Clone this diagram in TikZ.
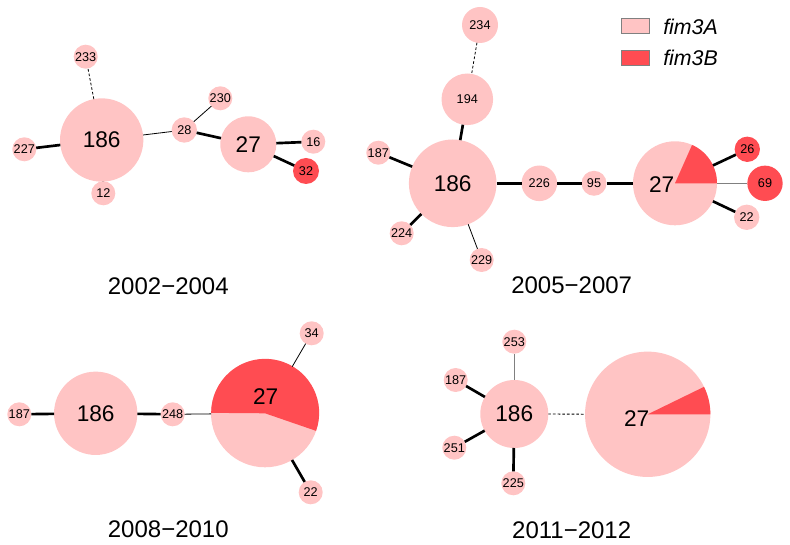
\documentclass[tikz,border=0pt]{standalone}
\usepackage{fontspec}
\setmainfont{Liberation Sans}
\definecolor{fimA}{RGB}{255,196,196}
\definecolor{fimB}{RGB}{255,76,82}

\begin{document}
\begin{tikzpicture}[
        x=0.75pt, y=-0.75pt,
        st/.style={circle, fill=fimA, inner sep=0pt, outer sep=0pt, minimum size=#1, font=\fontsize{9.5}{11}\selectfont},
        st/.default=18pt,
        stB/.style={st=#1, fill=fimB},
        stB/.default=18pt,
        big/.style={font=\fontsize{17}{20}\selectfont},
        year/.style={font=\fontsize{18}{22}\selectfont},
        key/.style={draw=gray, minimum width=20.7pt, minimum height=11.25pt, inner sep=0pt},
        keytext/.style={anchor=west, inner sep=0pt, font=\fontsize{16}{19}\selectfont\itshape},
        strong/.style={line width=2pt},
        weak/.style={line width=0.6pt},
        far/.style={line width=0.6pt, dash pattern=on 2pt off 1.5pt},
        faint/.style={line width=1pt, gray}
    ]
        \useasboundingbox (0,0) rectangle (790,545);

        % 2002-2004
        \node[st=62.5pt, big] (a186) at (101.7,140) {186};
        \node[st] (a233) at (85.7,56.7) {233};
        \node[st] (a227) at (24.3,149.3) {227};
        \node[st] (a12) at (103.3,193.3) {12};
        \node[st=19pt] (a28) at (184.3,130) {28};
        \node[st] (a230) at (220.3,98.3) {230};
        \node[st=42pt, big] (a27) at (248.3,144.3) {27};
        \node[st] (a16) at (313.3,141.7) {16};
        \node[stB=19.5pt] (a32) at (306,171) {32};

        \draw[far] (a186) -- (a233);
        \draw[strong] (a186) -- (a227);
        \draw[weak] (a186) -- (a12);
        \draw[weak] (a186) -- (a28);
        \draw[weak] (a28) -- (a230);
        \draw[strong] (a28) -- (a27);
        \draw[strong] (a27) -- (a16);
        \draw[strong] (a27) -- (a32);
        \node[year] (ya) at (168.3,286) {2002−2004};

        % 2005-2007
        \node[st=27pt] (b234) at (480,25) {234};
        \node[st=38.7pt] (b194) at (467.3,99.3) {194};
        \node[st=65.7pt, big] (b186) at (452.7,183.3) {186};
        \node[st] (b187) at (378.3,152.7) {187};
        \node[st] (b224) at (401.7,233.3) {224};
        \node[st] (b229) at (481.7,260) {229};
        \node[st=26.7pt] (b226) at (539.3,183.3) {226};
        \node[st=18.75pt] (b95) at (594,183.3) {95};
        \node[st=63pt] (b27) at (675,183.3) {};
        \fill[fimB] (b27.center) -- (b27.0) arc[start angle=0, end angle=66, radius=31.5pt] -- cycle;
        \node[big] (b27t) at (661.7,185) {27};
        \node[stB=19pt] (b26) at (747.3,149.3) {26};
        \node[stB=26.5pt] (b69) at (765,183.3) {69};
        \node[st=19pt] (b22) at (746.7,217.3) {22};

        \draw[far] (b234) -- (b194);
        \draw[strong] (b194) -- (b186);
        \draw[strong] (b186) -- (b187);
        \draw[strong] (b186) -- (b224);
        \draw[weak] (b186) -- (b229);
        \draw[strong] (b186) -- (b226);
        \draw[strong] (b226) -- (b95);
        \draw[strong] (b95) -- (b27);
        \draw[strong] (b27) -- (b26);
        \draw[faint] (b27) -- (b69);
        \draw[strong] (b27) -- (b22);
        \node[year] (yb) at (571.7,285.7) {2005−2007};

        % Legend
        \node[key, fill=fimA] (keyA) at (635.5,25.8) {};
        \node[keytext] (keyAt) at (663,26.7) {fim3A};
        \node[key, fill=fimB] (keyB) at (635.5,57.5) {};
        \node[keytext] (keyBt) at (663,58.3) {fim3B};

        % 2008-2010
        \node[st] (c187) at (19.3,414.3) {187};
        \node[st=62.5pt, big] (c186) at (95.7,413.3) {186};
        \node[st] (c248) at (172.7,414.3) {248};
        \node[st=81pt] (c27) at (265,413.3) {};
        \fill[fimB] (c27.center) -- (c27.-19.5) arc[start angle=-19.5, end angle=180, radius=40.5pt] -- cycle;
        \node[big] (c27t) at (265.7,396.7) {27};
        \node[st] (c34) at (311.7,333.3) {34};
        \node[st] (c22) at (310.7,492.3) {22};

        \draw[strong] (c187) -- (c186);
        \draw[strong] (c186) -- (c248);
        \draw[weak] (c248) -- (c27);
        \draw[weak] (c27) -- (c34);
        \draw[strong] (c27) -- (c22);
        \node[year] (yc) at (168.3,529.3) {2008−2010};

        % 2011-2012
        \node[st] (d253) at (514.3,341.7) {253};
        \node[st] (d187) at (455.7,380) {187};
        \node[st=51pt, big] (d186) at (514.3,414) {186};
        \node[st] (d251) at (454.3,447.7) {251};
        \node[st] (d225) at (513.3,483.3) {225};
        \node[st=94pt] (d27) at (647.7,414.3) {};
        \fill[fimB] (d27.center) -- (d27.0) arc[start angle=0, end angle=26, radius=47pt] -- cycle;
        \node[big] (d27t) at (636.7,418.3) {27};

        \draw[faint] (d186) -- (d253);
        \draw[strong] (d186) -- (d187);
        \draw[strong] (d186) -- (d251);
        \draw[strong] (d186) -- (d225);
        \draw[far] (d186) -- (d27);
        \node[year] (yd) at (571.7,530) {2011−2012};
\end{tikzpicture}
\end{document}
